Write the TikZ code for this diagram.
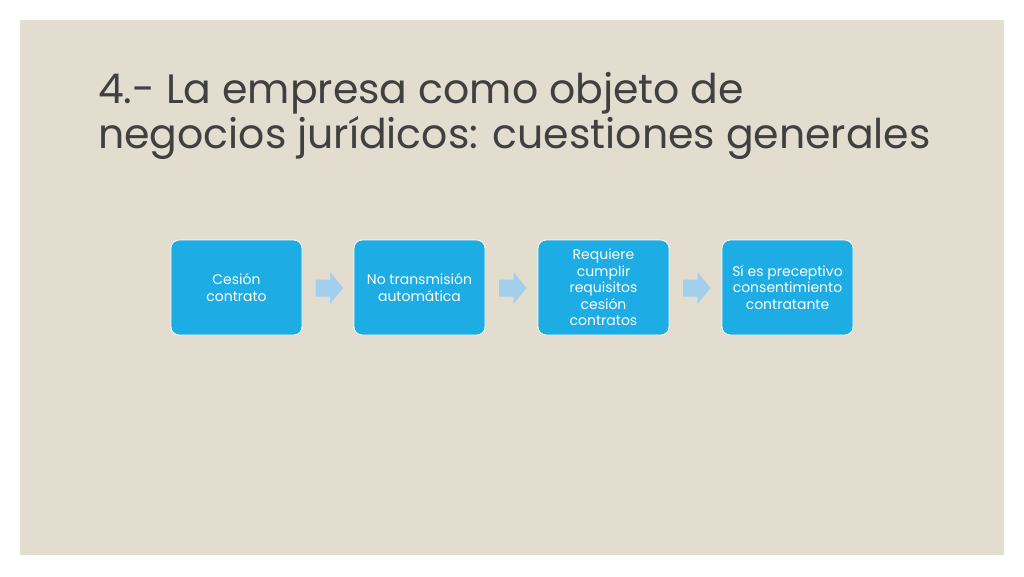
\documentclass[tikz,border=0pt]{standalone}
\usepackage{fontspec}
\setmainfont{Poppins}
\usetikzlibrary{calc}
\definecolor{slidebg}{RGB}{227,221,208}
\definecolor{boxc}{RGB}{29,172,227}
\definecolor{arrowc}{RGB}{163,206,236}
\definecolor{titlec}{RGB}{64,64,64}
\tikzset{
  stepbox/.style={rectangle, rounded corners=8pt, fill=boxc, draw=white, line width=0.9pt,
    minimum width=131pt, minimum height=95pt, inner sep=2pt, text=white, align=center,
    font=\fontsize{14}{16.5}\selectfont},
  titletext/.style={anchor=base west, inner sep=0pt, text=titlec, font=\fontsize{41}{46}\selectfont},
  blockarrow/.style={fill=arrowc}
}
\begin{document}
\begin{tikzpicture}[x=1pt,y=-1pt]
\useasboundingbox (0,0) rectangle (1024,576);
\fill[white] (0,0) rectangle (1024,576);
\fill[slidebg] (20,20) rectangle (1004,555);
\node[titletext] (t1) at (98,103) {4.- La empresa como objeto de};
\node[titletext] (t2) at (98,148) {negocios jurídicos: cuestiones generales};
\node[stepbox] (b1) at (236.5,287.5) {Cesión\\contrato};
\node[stepbox] (b2) at (419.5,287.5) {No transmisión\\automática};
\node[stepbox] (b3) at (603.5,287.5) {Requiere\\cumplir\\requisitos\\cesión\\contratos};
\node[stepbox] (b4) at (787.5,287.5) {Sí es preceptivo\\consentimiento\\contratante};
\foreach \a/\b/\n in {b1/b2/m1, b2/b3/m2, b3/b4/m3}{
  \coordinate (\n) at ($(\a.east)!0.5!(\b.west)+(1,0.5)$);
  \fill[blockarrow] ($(\n)+(-13.5,-8.5)$) -- ($(\n)+(1,-8.5)$) -- ($(\n)+(1,-16)$)
    -- ($(\n)+(14,0)$) -- ($(\n)+(1,16)$) -- ($(\n)+(1,8.5)$) -- ($(\n)+(-13.5,8.5)$) -- cycle;
}
\end{tikzpicture}
\end{document}
